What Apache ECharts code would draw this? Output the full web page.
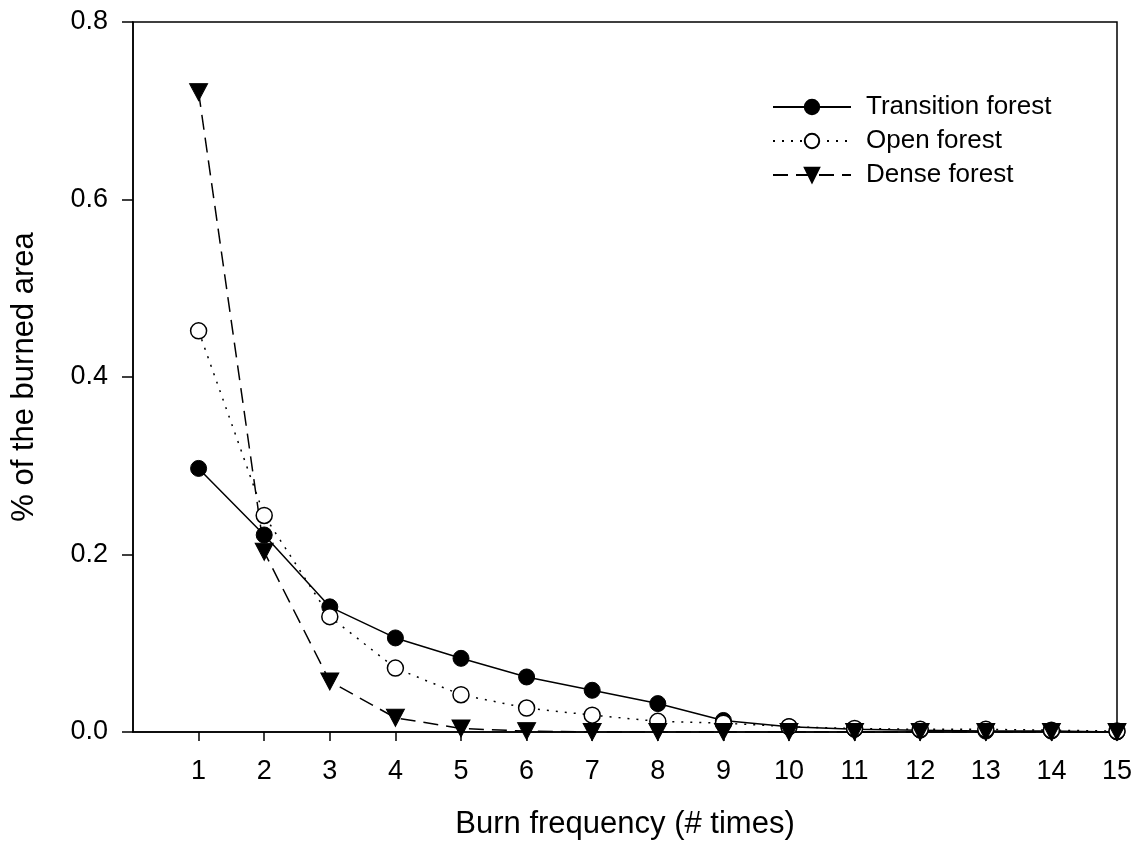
<!DOCTYPE html>
<html>
<head>
<meta charset="utf-8">
<script src="https://cdn.jsdelivr.net/npm/echarts@6/dist/echarts.min.js"></script>
<style>
  html, body { margin: 0; padding: 0; background: #fff; }
  #chart { width: 1136px; height: 850px; }
</style>
</head>
<body>
<div id="chart"></div>
<script>
const burnFreq = [1, 2, 3, 4, 5, 6, 7, 8, 9, 10, 11, 12, 13, 14, 15];
const transitionForest = [0.297, 0.222, 0.141, 0.106, 0.083, 0.062, 0.047, 0.032, 0.013, 0.006, 0.003, 0.002, 0.001, 0.001, 0.0];
const openForest = [0.452, 0.244, 0.130, 0.072, 0.042, 0.027, 0.019, 0.012, 0.010, 0.006, 0.004, 0.003, 0.003, 0.002, 0.001];
const denseForest = [0.721, 0.203, 0.057, 0.016, 0.004, 0.001, 0.0, 0.0, 0.0, 0.0, 0.0, 0.0, 0.0, 0.0, 0.0];
const yTicks = ['0.0', '0.2', '0.4', '0.6', '0.8'];

const font = 'Liberation Sans, Arial, sans-serif';
const pairs = arr => arr.map((v, i) => [burnFreq[i], v]);

const chart = echarts.init(document.getElementById('chart'));

const option = {
  animation: false,
  backgroundColor: '#fff',
  grid: {
    left: 133, right: 19, top: 22, bottom: 118,
    show: true, borderColor: '#000', borderWidth: 1.5, backgroundColor: 'transparent'
  },
  legend: {
    orient: 'vertical',
    left: 767, top: 88,
    itemWidth: 78, itemHeight: 18, itemGap: 6,
    textStyle: { fontFamily: font, fontSize: 26, lineHeight: 28, color: '#000', padding: [0, 0, 0, 10] },
    data: ['Transition forest', 'Open forest', 'Dense forest']
  },
  xAxis: {
    type: 'value', min: 0, max: 15, interval: 1,
    name: 'Burn frequency (# times)', nameLocation: 'middle', nameGap: 77,
    nameTextStyle: { fontFamily: font, fontSize: 31, color: '#000' },
    axisLine: { lineStyle: { color: '#000', width: 1.5 } },
    axisTick: { show: true, length: 9, customValues: burnFreq, lineStyle: { color: '#000', width: 1.5 } },
    axisLabel: {
      fontFamily: font, fontSize: 27, color: '#000', margin: 26,
      customValues: burnFreq
    },
    splitLine: { show: false }
  },
  yAxis: {
    type: 'value', min: 0, max: 0.8, interval: 0.2,
    name: '% of the burned area', nameLocation: 'middle', nameGap: 93,
    nameTextStyle: { fontFamily: font, fontSize: 31, color: '#000' },
    axisLine: { lineStyle: { color: '#000', width: 1.5 } },
    axisTick: { show: true, length: 11, lineStyle: { color: '#000', width: 1.5 } },
    axisLabel: {
      fontFamily: font, fontSize: 27, color: '#000', margin: 25,
      formatter: v => yTicks[Math.round(v / 0.2)]
    },
    splitLine: { show: false }
  },
  series: [
    {
      name: 'Transition forest', type: 'line', data: pairs(transitionForest),
      symbol: 'circle', symbolSize: 16,
      lineStyle: { color: '#000', width: 1.5, type: 'solid' },
      itemStyle: { color: '#000', borderColor: '#000', borderWidth: 1 }
    },
    {
      name: 'Open forest', type: 'line', data: pairs(openForest),
      symbol: 'circle', symbolSize: 16,
      lineStyle: { color: '#000', width: 1.5, type: [2, 7] },
      itemStyle: { color: '#fff', borderColor: '#000', borderWidth: 1.5 }
    },
    {
      name: 'Dense forest', type: 'line', data: pairs(denseForest),
      symbol: 'triangle', symbolRotate: 180, symbolSize: [18, 17],
      lineStyle: { color: '#000', width: 1.5, type: [15, 8] },
      itemStyle: { color: '#000', borderColor: '#000', borderWidth: 1 }
    }
  ]
};

chart.setOption(option);
</script>
</body>
</html>
